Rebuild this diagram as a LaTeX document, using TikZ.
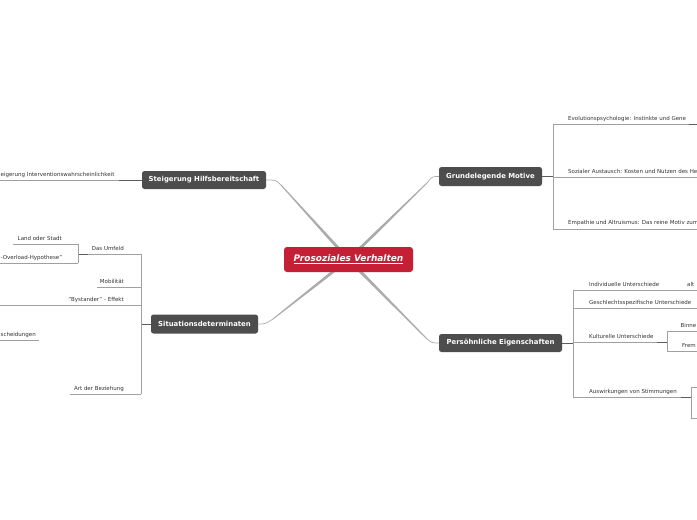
\documentclass[tikz,border=0pt]{standalone}
\usepackage{fontspec}
\setmainfont{DejaVu Sans}
\usetikzlibrary{calc}
\definecolor{nodegray}{HTML}{4D4D4D}
\definecolor{mainred}{HTML}{C41F35}
\definecolor{linkgray}{HTML}{ABABAB}
\definecolor{treegray}{HTML}{A0A0A0}
\definecolor{stubgray}{HTML}{5C5C5C}
\definecolor{txt}{HTML}{333333}
\begin{document}
\begin{tikzpicture}[x=1pt,y=-1pt,
  mainbox/.style={fill=nodegray, rounded corners=2.5pt, text=white,
    font=\fontsize{6.9}{8}\selectfont\bfseries, inner sep=0, align=center},
  centerbox/.style={fill=mainred, rounded corners=3pt, text=white,
    font=\fontsize{9}{10}\selectfont\bfseries\itshape, inner sep=0, align=center},
  lab/.style={font=\fontsize{5.5}{6.5}\selectfont, text=txt, inner sep=0},
  tree/.style={draw=treegray, line width=0.6pt},
  stub/.style={draw=stubgray, line width=0.9pt},
  link/.style={draw=linkgray, line width=0.7pt},
]
\useasboundingbox (0,0) rectangle (697,520);
\clip (0,0) rectangle (697,520);
\fill[white] (0,0) rectangle (697,520);

% ---------- coordinates for main connectors ----------
\coordinate (C) at (348.5,259.5);
\coordinate (P1) at (281,185);
\coordinate (P2) at (427,183);
\coordinate (P3) at (273,319);
\coordinate (P4) at (427,339);

% ---------- main nodes ----------
\node[mainbox, minimum width=124pt, minimum height=18pt] (st) at (204,180) {Steigerung Hilfsbereitschaft};
\node[mainbox, minimum width=103pt, minimum height=19pt] (gm) at (490.5,176.5) {Grundelegende Motive};
\node[mainbox, minimum width=107pt, minimum height=19pt] (sd) at (204.5,324) {Situationsdeterminaten};
\node[mainbox, minimum width=123pt, minimum height=18pt] (pe) at (500.5,343) {Persöhnliche Eigenschaften};

% ---------- tapered main links ----------
\foreach \p in {P1,P2,P3,P4}{
  \fill[linkgray] ($(C)!1.7pt!90:(\p)$) -- ($(\p)!0.5pt!-90:(C)$) -- ($(\p)!0.5pt!90:(C)$) -- ($(C)!1.7pt!-90:(\p)$) -- cycle;
}
\draw[link] (P1) .. controls (276,180) .. (st.east);
\draw[link] (P2) .. controls (432,176.5) .. (gm.west);
\draw[link] (P3) .. controls (265,324) .. (sd.east);
\draw[link] (P4) .. controls (432,343) .. (pe.west);

% ---------- central node ----------
\node[centerbox, minimum width=129pt, minimum height=25pt] (ctr) at (C) {\underline{Prosoziales Verhalten}};

% ================= Steigerung Hilfsbereitschaft =================
\coordinate (stL) at (0,180);
\coordinate (stS) at (119,180);
\draw[tree] (st.west) -- (stL);
\draw[stub] (st.west) -- (stS);
\node[lab, anchor=base west] (st1) at (0.5,176) {eigerung Interventionswahrscheinlichkeit};

% ================= Situationsdeterminaten =================
\coordinate (sdJ) at (141,324);
\coordinate (sdT) at (141,254);
\coordinate (sdB) at (141,394);
\draw[stub] (sd.west) -- (sdJ);
\draw[tree] (sdT) -- (sdB);
% Das Umfeld
\coordinate (umE) at (78,254);
\draw[tree] (sdT) -- (umE);
\draw[stub] (umE) -- (88,254);
\node[lab, anchor=base east] (um) at (124,250) {Das Umfeld};
\coordinate (umT) at (78,244);
\coordinate (umB) at (78,263);
\draw[tree] (umT) -- (umB);
\coordinate (lsE) at (13,244);
\draw[tree] (umT) -- (lsE);
\node[lab, anchor=base east] (ls) at (62,240) {Land oder Stadt};
\coordinate (ohE) at (0,263);
\draw[tree] (umB) -- (ohE);
\node[lab, anchor=base west] (oh) at (0.5,259) {-Overload-Hypothese"};
% Mobilitaet
\coordinate (moJ) at (141,287);
\coordinate (moE) at (97,287);
\draw[tree] (moJ) -- (moE);
\node[lab, anchor=base east] (mo) at (124,283) {Mobilität};
% Bystander
\coordinate (byJ) at (141,305.5);
\coordinate (byE) at (0,305.5);
\draw[tree] (byJ) -- (byE);
\node[lab, anchor=base east] (by) at (124,301.5) {"Bystander" - Effekt};
% Entscheidungen
\coordinate (enS) at (0,340);
\coordinate (enE) at (39,340);
\draw[tree] (enS) -- (enE);
\node[lab, anchor=base west] (en) at (0.5,336) {scheidungen};
% Art der Beziehung
\coordinate (abE) at (70,394);
\draw[tree] (sdB) -- (abE);
\node[lab, anchor=base east] (ab) at (124,390) {Art der Beziehung};

% ================= Grundelegende Motive =================
\coordinate (gmJ) at (553,176.5);
\coordinate (gmT) at (553,124);
\coordinate (gmB) at (553,229);
\draw[stub] (gm.east) -- (gmJ);
\draw[tree] (gmT) -- (gmB);
\coordinate (evE) at (697,124);
\draw[tree] (gmT) -- (evE);
\draw[stub] (689,124) -- (evE);
\node[lab, anchor=base west] (ev) at (568,120.3) {Evolutionspsychologie: Instinkte und Gene};
\coordinate (saS) at (553,177);
\coordinate (saE) at (697,177);
\draw[tree] (saS) -- (saE);
\node[lab, anchor=base west] (sa) at (568,173.2) {Sozialer Austausch: Kosten und Nutzen des He};
\coordinate (emE) at (697,229);
\draw[tree] (gmB) -- (emE);
\node[lab, anchor=base west] (em) at (568,224.8) {Empathie und Altruismus: Das reine Motiv zum};

% ================= Persoehnliche Eigenschaften =================
\coordinate (peJ) at (573,343);
\coordinate (peT) at (573,290);
\coordinate (peB) at (573,397.5);
\draw[stub] (pe.east) -- (peJ);
\draw[tree] (peT) -- (peB);
% Individuelle Unterschiede
\coordinate (iuE) at (697,290);
\draw[tree] (peT) -- (iuE);
\node[lab, anchor=base west] (iu) at (589,286.2) {Individuelle Unterschiede};
\node[lab, anchor=base west] (al) at (687,286.2) {alt};
% Geschlechtsspezifische
\coordinate (gsS) at (573,308);
\coordinate (gsE) at (697,308);
\draw[tree] (gsS) -- (gsE);
\node[lab, anchor=base west] (gs) at (589,304.2) {Geschlechtsspezifische Unterschiede};
% Kulturelle
\coordinate (kuS) at (573,342);
\coordinate (kuE) at (667,342);
\draw[tree] (kuS) -- (kuE);
\draw[stub] (657,342) -- (kuE);
\node[lab, anchor=base west] (ku) at (589,338.2) {Kulturelle Unterschiede};
\coordinate (kuT) at (667,331.5);
\coordinate (kuB) at (667,351.5);
\draw[tree] (kuT) -- (kuB);
\coordinate (biE) at (697,331.5);
\draw[tree] (kuT) -- (biE);
\node[lab, anchor=base west] (bi) at (680.5,327.8) {Binne};
\coordinate (frE) at (697,351.5);
\draw[tree] (kuB) -- (frE);
\node[lab, anchor=base west] (fr) at (682,347.8) {Frem};
% Auswirkungen von Stimmungen
\coordinate (awE) at (691,397.5);
\draw[tree] (peB) -- (awE);
\draw[stub] (681,397.5) -- (awE);
\node[lab, anchor=base west] (aw) at (589,393.7) {Auswirkungen von Stimmungen};
\coordinate (awT) at (691,387);
\coordinate (awB) at (691,418);
\draw[tree] (awT) -- (awB);
\coordinate (aw1) at (697,387);
\coordinate (aw2) at (697,418);
\draw[tree] (awT) -- (aw1);
\draw[tree] (awB) -- (aw2);
\end{tikzpicture}
\end{document}
